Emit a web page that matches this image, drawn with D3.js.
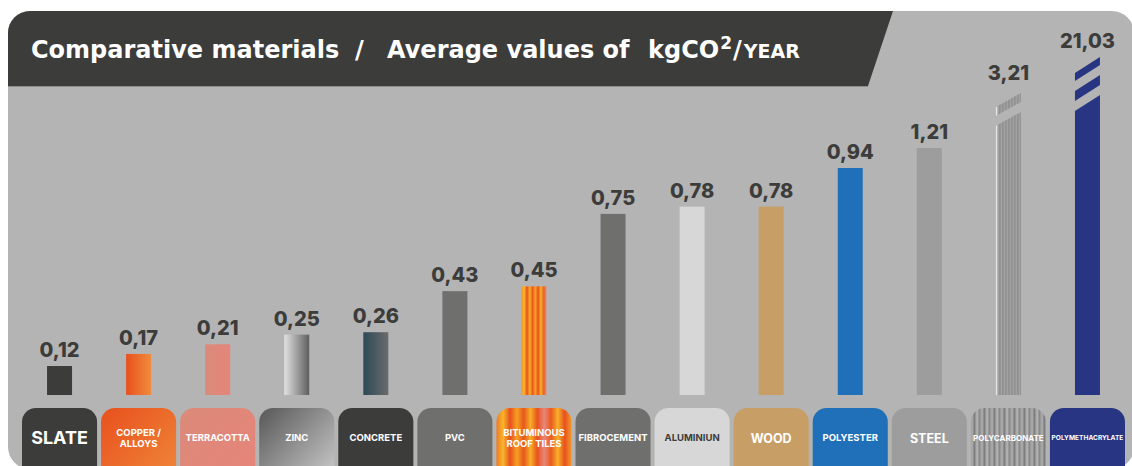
<!DOCTYPE html>
<html>
<head>
<meta charset="utf-8">
<script src="https://cdn.jsdelivr.net/npm/d3@7"></script>
<style>
  body { margin: 0; background: #fff; }
  svg { display: block; font-family: Inter, "DejaVu Sans", sans-serif; }
</style>
</head>
<body>
<svg></svg>
<script>
const width = 1132;
const height = 466;

// data
var materials = ["SLATE", "COPPER / ALLOYS", "TERRACOTTA", "ZINC", "CONCRETE", "PVC",
  "BITUMINOUS ROOF TILES", "FIBROCEMENT", "ALUMINIUN", "WOOD", "POLYESTER", "STEEL",
  "POLYCARBONATE", "POLYMETHACRYLATE"];
var values = [0.12, 0.17, 0.21, 0.25, 0.26, 0.43, 0.45, 0.75, 0.78, 0.78, 0.94, 1.21, 3.21, 21.03];
var valueLabels = ["0,12", "0,17", "0,21", "0,25", "0,26", "0,43", "0,45", "0,75", "0,78", "0,78", "0,94", "1,21", "3,21", "21,03"];
var labelLines = [["SLATE"], ["COPPER /", "ALLOYS"], ["TERRACOTTA"], ["ZINC"], ["CONCRETE"], ["PVC"],
  ["BITUMINOUS", "ROOF TILES"], ["FIBROCEMENT"], ["ALUMINIUN"], ["WOOD"], ["POLYESTER"], ["STEEL"],
  ["POLYCARBONATE"], ["POLYMETHACRYLATE"]];

// styles
var panel = "#b4b4b4", dark = "#3c3c3b";
var barFill = {
  "SLATE": dark, "COPPER / ALLOYS": "url(#copperBar)", "TERRACOTTA": "url(#terraBar)",
  "ZINC": "url(#zincBar)", "CONCRETE": "url(#concreteBar)", "PVC": "#6f6f6e",
  "BITUMINOUS ROOF TILES": "url(#bitum)", "FIBROCEMENT": "#6f6f6e", "ALUMINIUN": "#d7d7d7",
  "WOOD": "#c89e67", "POLYESTER": "#1f70b8", "STEEL": "#9d9d9d",
  "POLYCARBONATE": "url(#polyc)", "POLYMETHACRYLATE": "#283583"
};
var boxFill = Object.assign({}, barFill, {
  "COPPER / ALLOYS": "url(#copperBox)", "TERRACOTTA": "url(#terraBox)", "ZINC": "url(#zincBox)",
  "CONCRETE": dark, "BITUMINOUS ROOF TILES": "url(#bitumBox)", "POLYCARBONATE": "url(#polycBox)"
});
var labelSize = { "SLATE": 18, "WOOD": 12.5, "STEEL": 12.5, "POLYCARBONATE": 8, "POLYMETHACRYLATE": 6.6 };
var breaks = { "POLYCARBONATE": { slant: 14, gaps: [[9, 19]], lift: 4 },
               "POLYMETHACRYLATE": { slant: 16, gaps: [[8, 18], [28, 38]], lift: 0 } };

var svg = d3.select("svg").attr("width", width).attr("height", height);
var defs = svg.append("defs");

function grad(id, stops, x2, y2) {
  var g = defs.append("linearGradient").attr("id", id)
    .attr("x1", 0).attr("y1", 0).attr("x2", x2).attr("y2", y2);
  stops.forEach((c, i) => g.append("stop").attr("offset", i / (stops.length - 1)).attr("stop-color", c));
}
grad("copperBar", ["#e8501e", "#f08c3c"], 1, 0);
grad("copperBox", ["#e8501e", "#f08a3a"], 1, 1);
grad("terraBar", ["#d98b7b", "#e6857a"], 1, 0);
grad("terraBox", ["#db8a7a", "#e8847a"], 1, 1);
grad("zincBar", ["#e2e2e2", "#5e5e5e"], 1, 0);
grad("zincBox", ["#575757", "#d2d2d2"], 1, 1);
grad("concreteBar", ["#2d4a57", "#6b6b6b"], 1, 0);
var bit = ["#f39a2a", "#f8b62b", "#e8501e", "#f7ad28", "#ea5a1e", "#f5a023", "#e8521e", "#f7b02a", "#eb631f", "#e8877a"];
grad("bitum", bit, 1, 0);
grad("bitumBox", ["#ef7a24", "#f8b62b", "#e8501e", "#f5a023", "#e9571e", "#f7ad28", "#e8521e", "#e8877a", "#ea5a1e", "#f7b02a", "#e8501e", "#f39a2a"], 1, 0);

function stripes(id, w, cols) {
  var p = defs.append("pattern").attr("id", id).attr("patternUnits", "userSpaceOnUse")
    .attr("width", w * cols.length).attr("height", 10);
  cols.forEach((c, i) => p.append("rect").attr("x", i * w).attr("width", w).attr("height", 10).attr("fill", c));
}
stripes("polyc", 1.5, ["#868686", "#a3a3a3"]);
stripes("polycBox", 2.5, ["#8a8a8a", "#a8a8a8", "#7e7e7e", "#b0b0b0"]);

// scales
var x = d3.scaleBand().domain(materials).range([20, 1127]);
var y = d3.scaleLinear().domain([0, 0.94, 1.21, 3.21, 21.03]).range([395, 168, 148, 93, 57]);
var barW = 25, boxW = x.bandwidth() - 4;

// panel and title bar
svg.append("rect").attr("x", 8).attr("y", 11).attr("width", 1126).attr("height", 458)
  .attr("rx", 22).attr("fill", panel);
svg.append("path").attr("fill", dark)
  .attr("d", "M8,86 L8,33 A22,22 0 0 1 30,11 L893,11 L868,86 Z");
svg.append("line").attr("x1", 8).attr("x2", 868).attr("y1", 86.5).attr("y2", 86.5)
  .attr("stroke", "#8e8e8e").attr("stroke-width", 1);

var title = svg.append("g").attr("fill", "#fff").attr("font-weight", 700).attr("font-size", 24)
  .attr("font-family", "'DejaVu Sans', sans-serif");
title.append("text").attr("x", 31).attr("y", 58).text("Comparative materials");
title.append("text").attr("x", 355).attr("y", 58).text("/");
var t2 = title.append("text").attr("x", 387).attr("y", 58);
t2.append("tspan").text("Average values of");
t2.append("tspan").attr("x", 648).text("kgCO");
t2.append("tspan").attr("font-size", 17).attr("dx", 1).attr("dy", -9).text("2");
t2.append("tspan").attr("dx", 1).attr("dy", 9).text("/");
t2.append("tspan").attr("font-size", 19).attr("dx", 2).text("YEAR");

// bars
var cols = svg.selectAll("g.col")
  .data(materials)
  .enter()
  .append("g")
  .attr("class", "col")
  .attr("transform", d => `translate(${x(d) + x.bandwidth() / 2},0)`);

cols.each(function(d, i) {
  var g = d3.select(this);
  var top = y(values[i]), x0 = -barW / 2, x1 = barW / 2;
  var b = breaks[d];
  if (!b) {
    g.append("rect").attr("x", x0).attr("y", top).attr("width", barW)
      .attr("height", y(0) - top).attr("fill", barFill[d]);
  } else {
    var line = (t, xx) => top + t + b.slant * (x1 - xx) / barW;
    g.append("path").attr("fill", barFill[d])
      .attr("d", `M${x0},${line(0, x0)} L${x1},${line(0, x1)} L${x1},${y(0)} L${x0},${y(0)} Z`);
    if (d === "POLYCARBONATE") {
      g.append("path").attr("fill", "#e6e6e6")
        .attr("d", `M${x0},${line(0, x0)} L${x0 + 1.5},${line(0, x0 + 1.5)} L${x0 + 1.5},${y(0)} L${x0},${y(0)} Z`);
    }
    b.gaps.forEach(gp => {
      var a = gp[0], c = gp[1], xa = x0 - 2, xb = x1 + 2;
      g.append("path").attr("fill", panel)
        .attr("d", `M${xa},${line(a, xa)} L${xb},${line(a, xb)} L${xb},${line(c, xb)} L${xa},${line(c, xa)} Z`);
    });
  }
  g.append("text").attr("text-anchor", "middle").attr("y", top - 9 - (b ? b.lift : 0))
    .attr("font-size", 20).attr("font-weight", 800).attr("fill", dark)
    .text(valueLabels[i]);

  // label box
  g.append("rect").attr("x", -boxW / 2).attr("y", 408).attr("width", boxW).attr("height", 80)
    .attr("rx", 14).attr("fill", boxFill[d]);
  var lines = labelLines[i];
  var fs = labelSize[d] || 9.5;
  var txt = g.append("text").attr("text-anchor", "middle").attr("font-weight", 700)
    .attr("font-size", fs).attr("fill", d === "ALUMINIUN" ? dark : "#fff");
  lines.forEach((l, k) => {
    txt.append("tspan").attr("x", 0)
      .attr("y", 438 + fs * 0.36 + (k - (lines.length - 1) / 2) * 11)
      .text(l);
  });
});
</script>
</body>
</html>
